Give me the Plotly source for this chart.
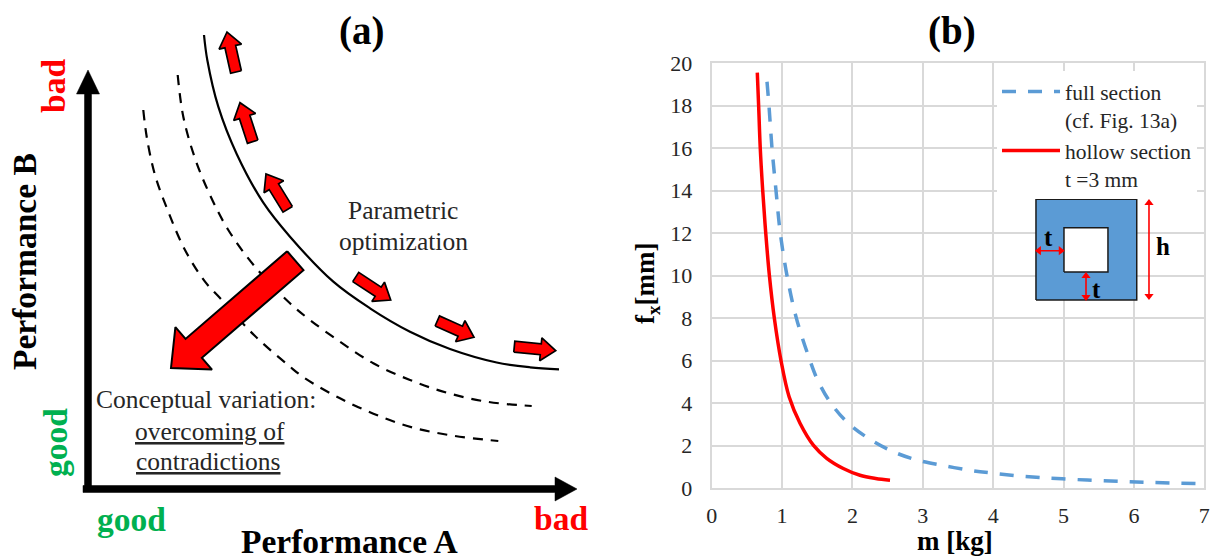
import math
import plotly.graph_objects as go

SERIF = "Liberation Serif"
RED = "#FF0000"
GREEN = "#00B050"
BLUE = "#5B9BD5"
GRID = "#D9D9D9"
TXT = "#262626"
W, H = 1216, 559

# ---- panel (a): values read on the sketch's own scale
solid_x = [204, 207.3, 218.3, 236.7, 263.3, 290, 333.3, 370, 410, 450, 496.7, 530, 559]
solid_y = [35, 60, 106.7, 154, 202.7, 236.7, 281.7, 308.3, 331.7, 349, 362.5, 367.3, 369.3]
mid_x = [177.7, 183.3, 195, 210, 228.3, 255, 290, 310, 340, 373.3, 410, 446.7, 486.7, 531.7]
mid_y = [75, 116.7, 158.3, 195, 230, 266.7, 303.3, 320, 341.7, 363.3, 380, 392.7, 401.7, 406]
inner_x = [143.3, 146.7, 155, 168.3, 185, 205, 220, 254, 290, 305, 340, 376.7, 413.3, 453.3, 498.3]
inner_y = [110, 136.7, 175, 211.7, 250, 281.7, 298, 335, 366.7, 378.3, 398.3, 415, 427.7, 435.7, 441]

small_tail_x = [236, 252.7, 287.7, 355.7, 437.3, 514.3]
small_tail_y = [72, 141.7, 209.3, 277, 321, 346.7]
small_tip_x = [227, 240, 266, 390.7, 474, 555.7]
small_tip_y = [32, 102.7, 174, 300, 337.3, 350.7]
big_tail = (295.3, 260.7)
big_tip = (171, 368)

axis_a_x = [88, 88, 83, 577]
axis_a_y = [489, 70, 489, 489]

labels_a = ["<b>(a)</b>", "Parametric", "optimization", "Conceptual variation:",
            "<u>overcoming of</u>", "<u>contradictions</u>",
            "<b>good</b>", "<b>bad</b>", "<b>Performance A</b>"]
labels_a_x = [361, 403, 403, 206, 210, 208, 131, 561, 349]
labels_a_y = [31, 210, 241, 399, 431, 461, 519, 518, 541]
labels_a_size = [39, 25.5, 25.5, 25.5, 25.5, 25.5, 33.5, 33.5, 33.5]
labels_a_color = ["#000000", TXT, TXT, TXT, TXT, TXT, GREEN, RED, "#000000"]

vlabels_a = ["<b>Performance B</b>", "<b>bad</b>", "<b>good</b>"]
vlabels_a_x = [24, 53, 55]
vlabels_a_y = [262, 86, 443]
vlabels_a_color = ["#000000", RED, GREEN]

# ---- panel (b)
full_m = [0.786, 0.814, 0.857, 0.914, 0.975, 1.07, 1.203, 1.397, 1.5, 1.68, 1.918, 2.226, 2.558, 2.913,
          3.3, 3.7, 3.99, 4.41, 4.98, 5.78, 6.157, 6.537, 7.0]
full_f = [19.13, 18, 16, 14, 12, 10, 8, 6, 5.12, 4.06, 3.12, 2.34, 1.74, 1.32,
          1.05, 0.82, 0.7, 0.55, 0.43, 0.315, 0.268, 0.235, 0.2]
hollow_m = [0.648, 0.667, 0.69, 0.725, 0.768, 0.82, 0.89, 0.985, 1.1, 1.255, 1.444, 1.634, 1.87, 2.107, 2.33, 2.534]
hollow_f = [19.56, 18, 16, 14, 12, 10, 8, 6, 4.3, 3.05, 2.02, 1.4, 0.92, 0.6, 0.45, 0.37]

x_ticks = [0, 1, 2, 3, 4, 5, 6, 7]
y_ticks = [0, 2, 4, 6, 8, 10, 12, 14, 16, 18, 20]

section_outer_x = [4.608, 6.04, 6.04, 4.608, 4.608]
section_outer_y = [8.853, 8.853, 13.6, 13.6, 8.853]
section_hole_x = [5.006, 5.631, 5.631, 5.006, 5.006]
section_hole_y = [10.17, 10.17, 12.26, 12.26, 10.17]
dim_h = (6.214, 9.04, 13.42)
dim_t_side = (4.65, 4.96, 11.175)
dim_t_bottom = (5.319, 9.0, 9.98)
t_labels_x = [4.793, 5.475, 6.413]
t_labels_y = [11.82, 9.37, 11.35]
t_labels = ["t", "t", "h"]

title_b = ("<b>(b)</b>", 952, 31)
xtitle_b = ("<b>m [kg]</b>", 955, 541)
ytitle_b = ("<b>f<sub>x</sub>[mm]</b>", 647, 284)

fig = go.Figure()


def arrow_poly(tail, tip, shaft, head_w, head_l):
    dx, dy = tip[0] - tail[0], tip[1] - tail[1]
    n = math.hypot(dx, dy)
    ux, uy = dx / n, dy / n
    px, py = -uy, ux
    bx, by = tip[0] - ux * head_l, tip[1] - uy * head_l
    pts = [
        (tail[0] + px * shaft / 2, tail[1] + py * shaft / 2),
        (bx + px * shaft / 2, by + py * shaft / 2),
        (bx + px * head_w / 2, by + py * head_w / 2),
        tip,
        (bx - px * head_w / 2, by - py * head_w / 2),
        (bx - px * shaft / 2, by - py * shaft / 2),
        (tail[0] - px * shaft / 2, tail[1] - py * shaft / 2),
        (tail[0] + px * shaft / 2, tail[1] + py * shaft / 2),
    ]
    return [p[0] for p in pts], [p[1] for p in pts]


def add_poly(tail, tip, shaft, head_w, head_l, fill, line_col, line_w):
    xs, ys = arrow_poly(tail, tip, shaft, head_w, head_l)
    fig.add_trace(go.Scatter(x=xs, y=ys, mode="lines", fill="toself", fillcolor=fill,
                             line=dict(color=line_col, width=line_w), showlegend=False,
                             hoverinfo="skip", xaxis="x", yaxis="y"))


for xs, ys, dash, lw in [(inner_x, inner_y, "10px,8px", 2.2), (mid_x, mid_y, "10px,8px", 2.2), (solid_x, solid_y, "solid", 2.2)]:
    fig.add_trace(go.Scatter(x=xs, y=ys, mode="lines", showlegend=False, hoverinfo="skip",
                             line=dict(color="#000000", width=lw, dash=dash, shape="spline", smoothing=1.0),
                             xaxis="x", yaxis="y"))

for a, b, c, d in zip(small_tail_x, small_tail_y, small_tip_x, small_tip_y):
    add_poly((a, b), (c, d), 11, 23, 15, RED, "#000000", 1.7)
add_poly(big_tail, big_tip, 25, 56, 30, RED, "#000000", 2)

add_poly((axis_a_x[0], axis_a_y[0]), (axis_a_x[1], axis_a_y[1]), 7, 23, 24, "#000000", "#000000", 0.5)
add_poly((axis_a_x[2], axis_a_y[2]), (axis_a_x[3], axis_a_y[3]), 7, 24, 22, "#000000", "#000000", 0.5)

fig.add_trace(go.Scatter(x=full_m, y=full_f, mode="lines", name="full section<br>(cf. Fig. 13a)",
                         line=dict(color=BLUE, width=3.5, dash="14px,12px", shape="spline", smoothing=1.0),
                         xaxis="x2", yaxis="y2", hoverinfo="skip"))
fig.add_trace(go.Scatter(x=hollow_m, y=hollow_f, mode="lines", name="hollow section<br>t =3 mm",
                         line=dict(color=RED, width=3.5, shape="spline", smoothing=1.0),
                         xaxis="x2", yaxis="y2", hoverinfo="skip"))

# inset cross-section
for xs, ys, col in [(section_outer_x, section_outer_y, BLUE), (section_hole_x, section_hole_y, "#FFFFFF")]:
    fig.add_trace(go.Scatter(x=xs, y=ys, mode="lines", fill="toself", fillcolor=col, showlegend=False,
                             hoverinfo="skip", line=dict(color="#1A1A1A", width=1.5), xaxis="x2", yaxis="y2"))
for xs, ys, syms in [([dim_h[0], dim_h[0]], [dim_h[1], dim_h[2]], ["triangle-down", "triangle-up"]),
                     ([dim_t_side[0], dim_t_side[1]], [dim_t_side[2], dim_t_side[2]], ["triangle-left", "triangle-right"]),
                     ([dim_t_bottom[0], dim_t_bottom[0]], [dim_t_bottom[1], dim_t_bottom[2]], ["triangle-down", "triangle-up"])]:
    fig.add_trace(go.Scatter(x=xs, y=ys, mode="lines+markers", showlegend=False, hoverinfo="skip",
                             line=dict(color=RED, width=1.6), marker=dict(color=RED, size=8, symbol=syms),
                             xaxis="x2", yaxis="y2"))

anns = []
for t, x, y, s, c in zip(labels_a, labels_a_x, labels_a_y, labels_a_size, labels_a_color):
    anns.append(dict(text=t, x=x, y=y, xref="x", yref="y", showarrow=False,
                     font=dict(family=SERIF, size=s, color=c)))
for t, x, y, c in zip(vlabels_a, vlabels_a_x, vlabels_a_y, vlabels_a_color):
    anns.append(dict(text=t, x=x, y=y, xref="x", yref="y", showarrow=False, textangle=-90,
                     font=dict(family=SERIF, size=33.5, color=c)))
for (t, x, y), s, ang in [(title_b, 39, 0), (xtitle_b, 27, 0), (ytitle_b, 27, -90)]:
    anns.append(dict(text=t, x=x / W, y=1 - y / H, xref="paper", yref="paper", showarrow=False, textangle=ang,
                     xanchor="center", yanchor="middle",
                     font=dict(family=SERIF, size=s, color="#000000")))
for t, x, y in zip(t_labels, t_labels_x, t_labels_y):
    anns.append(dict(text="<b>%s</b>" % t, x=x, y=y, xref="x2", yref="y2", showarrow=False,
                     font=dict(family=SERIF, size=25, color="#000000")))

DOM_X = [711.7 / W, 1204.3 / W]
DOM_Y = [(H - 488) / H, (H - 63.3) / H]
fig.update_layout(
    width=W, height=H, margin=dict(l=0, r=0, t=0, b=0, autoexpand=False),
    paper_bgcolor="#FFFFFF", plot_bgcolor="#FFFFFF",
    font=dict(family=SERIF, color=TXT),
    annotations=anns,
    xaxis=dict(domain=[0, 600 / W], range=[0, 600], visible=False, fixedrange=True),
    yaxis=dict(domain=[0, 1], range=[H, 0], visible=False, fixedrange=True),
    xaxis2=dict(domain=DOM_X, range=[0, 7], tickmode="array", tickvals=x_ticks,
                anchor="y2", showgrid=True, gridcolor=GRID, gridwidth=2, zeroline=False,
                showline=True, linecolor=GRID, linewidth=2, mirror=True,
                ticks="outside", ticklen=7, tickcolor="rgba(0,0,0,0)",
                tickfont=dict(family=SERIF, size=22, color=TXT)),
    yaxis2=dict(domain=DOM_Y, range=[0, 20], tickmode="array", tickvals=y_ticks,
                anchor="x2", showgrid=True, gridcolor=GRID, gridwidth=2, zeroline=False,
                showline=True, linecolor=GRID, linewidth=2, mirror=True,
                ticks="outside", ticklen=13, tickcolor="rgba(0,0,0,0)",
                tickfont=dict(family=SERIF, size=22, color=TXT)),
    legend=dict(x=997 / W, y=(H - 71) / H, xanchor="left", yanchor="top", valign="top",
                bgcolor="#FFFFFF", borderwidth=0, itemwidth=58,
                font=dict(family=SERIF, size=21.5, color=TXT)),
    showlegend=True,
)

fig.write_html("out.html", config={"displayModeBar": False},
               post_script="document.body.style.margin='0';document.body.style.overflow='hidden';")
